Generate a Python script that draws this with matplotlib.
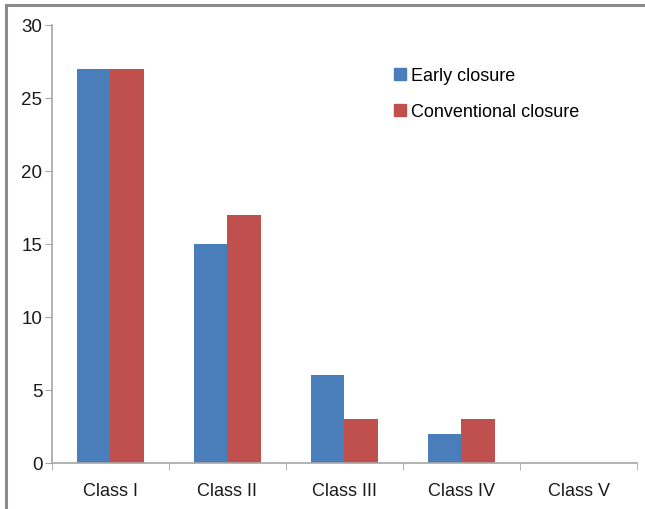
import matplotlib.pyplot as plt
import numpy as np
from matplotlib.lines import Line2D

classes = ["Class I", "Class II", "Class III", "Class IV", "Class V"]
early = [27, 15, 6, 2, 0]
conventional = [27, 17, 3, 3, 0]

blue = "#4A7EBB"
red = "#C0504D"
spine = "#A6A6A6"

plt.rcParams["font.family"] = ["Liberation Sans", "DejaVu Sans"]

fig = plt.figure(figsize=(6.45, 5.1), dpi=100)
ax = fig.add_axes([0.0806, 0.0902, 0.907, 0.859])

x = np.arange(len(classes))
w = 0.29
ax.bar(x - w / 2, early, w, color=blue, label="Early closure")
ax.bar(x + w / 2, conventional, w, color=red, label="Conventional closure")

ax.set_xlim(-0.5, len(classes) - 0.5)
ax.set_ylim(0, 30)
ax.set_yticks(range(0, 31, 5))

ax.set_xticks(x)
ax.set_xticklabels(classes, fontsize=13, color="#1a1a1a")
ax.set_xticks(np.arange(-0.5, len(classes)), minor=True)
ax.tick_params(axis="x", which="major", length=0, pad=14)
ax.tick_params(axis="x", which="minor", length=5, color=spine, direction="out")
ax.tick_params(axis="y", length=5, color=spine, labelsize=13.5, labelcolor="#1a1a1a", pad=2)

for s in ["top", "right"]:
    ax.spines[s].set_visible(False)
for s in ["left", "bottom"]:
    ax.spines[s].set_color(spine)
    ax.spines[s].set_linewidth(1.2)

handles = [
    Line2D([], [], marker="s", linestyle="", markersize=9, color=blue),
    Line2D([], [], marker="s", linestyle="", markersize=9, color=red),
]
fig.legend(handles, ["Early closure", "Conventional closure"],
           loc="upper left", bbox_to_anchor=(0.597, 0.88),
           frameon=False, fontsize=13, labelspacing=1.05,
           handletextpad=0.15, handlelength=0.9, borderaxespad=0)

# frame lines along the top and left edge of the figure
fig.add_artist(Line2D([0.0093, 1.0], [0.988, 0.988], color="#8C8C8C", lw=2.2, transform=fig.transFigure))
fig.add_artist(Line2D([0.0093, 0.0093], [0.0, 0.988], color="#8C8C8C", lw=2.2, transform=fig.transFigure))

fig.savefig("out.png", dpi=100)
